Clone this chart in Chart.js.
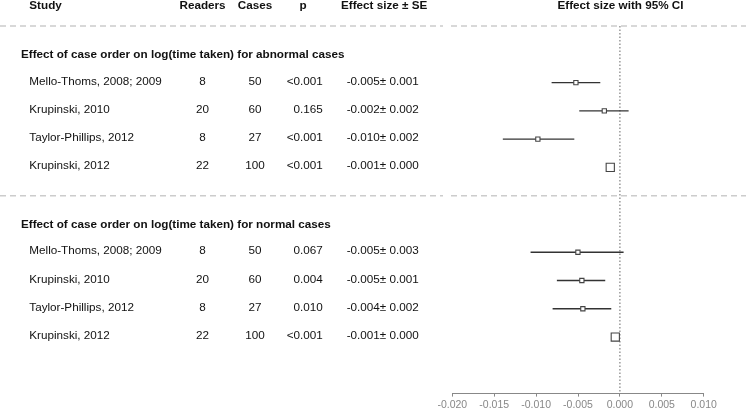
<!DOCTYPE html>
<html>
<head>
<meta charset="utf-8">
<script src="https://cdn.jsdelivr.net/npm/chart.js@4"></script>
<style>
  body { margin: 0; background: #fff; }
  #wrap { width: 746px; height: 409px; }
</style>
</head>
<body>
<div id="wrap"><canvas id="forest"></canvas></div>
<script>
// table / study data
const groups = [
  'Effect of case order on log(time taken) for abnormal cases',
  'Effect of case order on log(time taken) for normal cases'
];
const studies = ['Mello-Thoms, 2008; 2009', 'Krupinski, 2010', 'Taylor-Phillips, 2012', 'Krupinski, 2012'];
const readers = [8, 20, 8, 22];
const cases = [50, 60, 27, 100];
const pAbnormal = ['<0.001', '0.165', '<0.001', '<0.001'];
const pNormal = ['0.067', '0.004', '0.010', '<0.001'];
const effAbnormal = [-0.005, -0.002, -0.010, -0.001];
const seAbnormal = [0.001, 0.002, 0.002, 0.000];
const effNormal = [-0.005, -0.005, -0.004, -0.001];
const seNormal = [0.003, 0.001, 0.002, 0.000];

// plotted estimates and 95% CI
const estAbnormal = [-0.00525, -0.00186, -0.00979, -0.00115];
const loAbnormal = [-0.00815, -0.00485, -0.01397, -0.0015];
const hiAbnormal = [-0.00234, 0.00104, -0.00544, -0.0008];
const estNormal = [-0.00501, -0.00454, -0.00442, -0.00055];
const loNormal = [-0.01066, -0.00752, -0.00803, -0.0009];
const hiNormal = [0.00044, -0.00175, -0.00103, -0.0002];

const xTicks = [-0.020, -0.015, -0.010, -0.005, 0.000, 0.005, 0.010];
const nullEffect = 0;

// layout: each group takes a separator row, a title row, then one row per study
const rowsPerGroup = studies.length + 2;
const rowOf = (g, i) => g * rowsPerGroup + 2 + i;
const lastRow = groups.length * rowsPerGroup + 1;

const squareRadius = [3, 3, 3, 5.8];
const FONT = "'Liberation Sans', Arial, Helvetica, sans-serif";

const groupData = [
  { p: pAbnormal, eff: effAbnormal, se: seAbnormal, est: estAbnormal, lo: loAbnormal, hi: hiAbnormal },
  { p: pNormal, eff: effNormal, se: seNormal, est: estNormal, lo: loNormal, hi: hiNormal }
];

const points = [];
const radii = [];
const ciSets = [];
groupData.forEach((gd, g) => {
  studies.forEach((s, i) => {
    const r = rowOf(g, i);
    points.push({ x: gd.est[i], y: r });
    radii.push(squareRadius[i]);
    ciSets.push({
      type: 'line',
      data: [{ x: gd.lo[i], y: r }, { x: gd.hi[i], y: r }],
      borderColor: '#333',
      borderWidth: 1.4,
      pointRadius: 0,
      order: 1
    });
  });
});

const tablePlugin = {
  id: 'table',
  afterDraw(chart) {
    const ctx = chart.ctx;
    const y = chart.scales.y;
    ctx.save();

    // separators
    ctx.strokeStyle = '#cccccc';
    ctx.lineWidth = 1.5;
    ctx.setLineDash([6, 4]);
    groups.forEach((_, g) => {
      const py = y.getPixelForValue(g * rowsPerGroup);
      ctx.beginPath();
      ctx.moveTo(0, py); ctx.lineTo(443, py);
      ctx.moveTo(451, py); ctx.lineTo(746, py);
      ctx.stroke();
    });
    ctx.setLineDash([]);

    ctx.fillStyle = '#111';
    ctx.textBaseline = 'middle';

    const put = (txt, x, py, align) => { ctx.textAlign = align; ctx.fillText(txt, x, py); };

    // header
    ctx.font = 'bold 11.7px ' + FONT;
    const hy = y.getPixelForValue(-0.71);
    put('Study', 29.3, hy, 'left');
    put('Readers', 202.5, hy, 'center');
    put('Cases', 255, hy, 'center');
    put('p', 303, hy, 'center');
    put('Effect size \u00b1 SE', 384.2, hy, 'center');
    put('Effect size with 95% CI', 620.5, hy, 'center');

    groupData.forEach((gd, g) => {
      ctx.font = 'bold 11.7px ' + FONT;
      put(groups[g], 21, y.getPixelForValue(g * rowsPerGroup + 1) + 0.4, 'left');
      ctx.font = '11.7px ' + FONT;
      studies.forEach((s, i) => {
        const py = y.getPixelForValue(rowOf(g, i)) - 1.2;
        put(s, 29.3, py, 'left');
        put(String(readers[i]), 202.5, py, 'center');
        put(String(cases[i]), 255, py, 'center');
        put(gd.p[i], 322.7, py, 'right');
        put(gd.eff[i].toFixed(3) + '\u00b1 ' + gd.se[i].toFixed(3), 346.7, py, 'left');
      });
    });
    ctx.restore();
  }
};

new Chart(document.getElementById('forest'), {
  type: 'scatter',
  data: {
    datasets: [
      {
        data: points,
        pointStyle: 'rect',
        pointRadius: radii,
        backgroundColor: '#fff',
        borderColor: '#444',
        borderWidth: 1.1,
        order: 0
      },
      ...ciSets,
      {
        type: 'line',
        data: [{ x: nullEffect, y: 0 }, { x: nullEffect, y: lastRow }],
        borderColor: '#888',
        borderWidth: 1.3,
        borderDash: [1.5, 2],
        pointRadius: 0,
        order: 2
      }
    ]
  },
  options: {
    responsive: true,
    maintainAspectRatio: false,
    animation: false,
    events: [],
    layout: { autoPadding: false, padding: { left: 452.3, right: 42.3, top: 2, bottom: 0 } },
    plugins: { legend: { display: false }, tooltip: { enabled: false } },
    scales: {
      x: {
        type: 'linear',
        min: -0.02,
        max: 0.01,
        afterBuildTicks: scale => { scale.ticks = xTicks.map(v => ({ value: v })); },
        afterFit: scale => { scale.height = 15.4; },
        ticks: {
          callback: v => v.toFixed(3),
          color: '#888',
          font: { family: FONT, size: 10.5 },
          padding: 2,
          maxRotation: 0,
          autoSkip: false
        },
        grid: { display: true, drawOnChartArea: false, drawTicks: true, tickLength: 3, color: '#888', lineWidth: 1 },
        border: { display: true, color: '#888', width: 1 }
      },
      y: {
        type: 'linear',
        reverse: true,
        min: -0.85,
        max: lastRow,
        display: false
      }
    }
  },
  plugins: [tablePlugin]
});
</script>
</body>
</html>
